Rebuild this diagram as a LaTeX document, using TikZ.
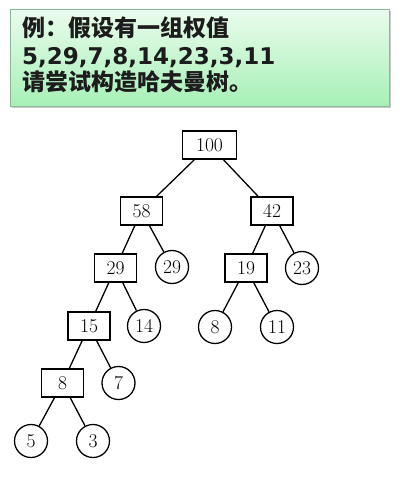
\documentclass[tikz,border=0pt]{standalone}
\usepackage{fontspec}
\usepackage{tikz}
\usetikzlibrary{shapes,arrows,fit,calc,positioning,shadows}
\newfontfamily\cjk{Noto Sans CJK SC}
\newfontfamily\digitfont{DejaVu Sans}
\definecolor{boxtop}{HTML}{EAFCEC}
\definecolor{boxbot}{HTML}{A6F0B6}
\definecolor{boxline}{HTML}{8CB897}
\definecolor{inktext}{HTML}{1C1C1C}

\begin{document}
\begin{tikzpicture}[x=1pt,y=1pt,on grid,line width=1.3pt,
    inner/.style={draw,rectangle,minimum width=42pt,minimum height=28pt,inner sep=0pt,font=\fontsize{19.5}{19.5}\selectfont},
    leaf/.style={draw,circle,minimum size=33pt,inner sep=0pt,font=\fontsize{19.5}{19.5}\selectfont},
    title/.style={anchor=base west,inner sep=0pt,text=inktext}]
           \useasboundingbox (0,0) rectangle (419,-478);
           % the question box
           \node[draw=boxline,line width=1pt,top color=boxtop,bottom color=boxbot,
                 drop shadow={shadow xshift=1.5pt,shadow yshift=-2pt,fill=black!35,opacity=.6},
                 minimum width=379pt,minimum height=97pt,anchor=north west] (note) at (10,-9) {};
           \node[title,font=\cjk\bfseries\fontsize{23}{23}\selectfont] (line1) at (21.5,-36.5) {例：假设有一组权值};
           \node[title,font=\digitfont\bfseries\fontsize{23}{23}\selectfont] (line2) at (21.5,-65) {5,29,7,8,14,23,3,11};
           \node[title,font=\cjk\bfseries\fontsize{23}{23}\selectfont] (line3) at (21.5,-90.5) {请尝试构造哈夫曼树。};
           % the tree
           \node[inner,minimum width=54pt] (n100) at (209.5,-145) {100};
           \node[inner] (n58) [below left=66pt and 68pt of n100] {58};
           \node[inner] (n42) [below right=66pt and 62.5pt of n100] {42};
           \node[inner] (n29) [below left=57pt and 26pt of n58] {29};
           \node[leaf] (l29) [below right=56pt and 30.5pt of n58] {29};
           \node[inner] (n19) [below left=57pt and 26pt of n42] {19};
           \node[leaf] (l23) [below right=57pt and 30pt of n42] {23};
           \node[inner] (n15) [below left=58pt and 26.5pt of n29] {15};
           \node[leaf] (l14) [below right=58pt and 28.5pt of n29] {14};
           \node[leaf] (l8) [below left=59pt and 31pt of n19] {8};
           \node[leaf] (l11) [below right=59pt and 31pt of n19] {11};
           \node[inner] (n8) [below left=57pt and 26.5pt of n15] {8};
           \node[leaf] (l7) [below right=57pt and 29.5pt of n15] {7};
           \node[leaf] (l5) [below left=58pt and 31.5pt of n8] {5};
           \node[leaf] (l3) [below right=58pt and 30.5pt of n8] {3};
           \path[draw]
            (n100) edge (n58)
            (n100) edge (n42)
            (n58) edge (n29)
            (n58) edge (l29)
            (n42) edge (n19)
            (n42) edge (l23)
            (n29) edge (n15)
            (n29) edge (l14)
            (n19) edge (l8)
            (n19) edge (l11)
            (n15) edge (n8)
            (n15) edge (l7)
            (n8) edge (l5)
            (n8) edge (l3);
        \end{tikzpicture}
\end{document}
